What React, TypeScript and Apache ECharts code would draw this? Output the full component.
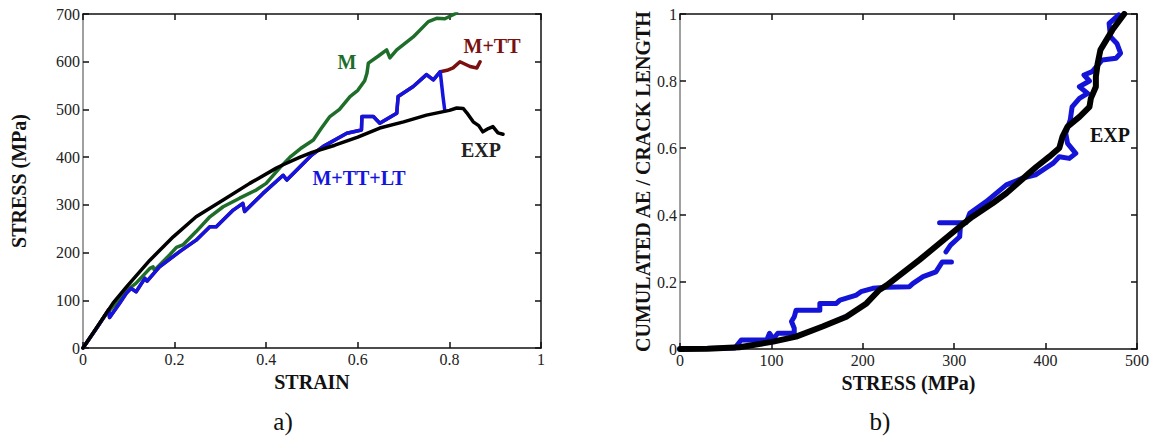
import React, { useEffect, useRef } from "react";
import * as echarts from "echarts";

// ---------- Panel a) : stress vs strain ----------
const strainTicks = { min: 0, max: 1, interval: 0.2 };
const stressTicks = { min: 0, max: 700, interval: 100 };

const expStrain = [0, 0.0655, 0.095, 0.146, 0.197, 0.247, 0.306, 0.364, 0.422, 0.437, 0.474, 0.5, 0.55, 0.6, 0.648, 0.7, 0.75, 0.8, 0.816, 0.83, 0.838, 0.852, 0.864, 0.873, 0.885, 0.895, 0.906, 0.917];
const expStress = [0, 94, 128, 184, 233, 275, 310, 345, 377, 384, 400, 410, 425, 442, 461, 474, 488, 498, 503, 502, 493, 474, 466, 453, 460, 464, 451, 448];

const mStrain = [0, 0.05, 0.1, 0.116, 0.146, 0.153, 0.156, 0.189, 0.204, 0.218, 0.247, 0.277, 0.306, 0.342, 0.378, 0.4, 0.43, 0.452, 0.475, 0.503, 0.52, 0.539, 0.56, 0.583, 0.6, 0.615, 0.62, 0.623, 0.645, 0.663, 0.67, 0.685, 0.721, 0.754, 0.772, 0.79, 0.816];
const mStress = [0, 70, 124, 136, 167, 170, 163, 195, 211, 216, 244, 275, 296, 314, 331, 345, 378, 400, 418, 436, 460, 485, 500, 527, 540, 560, 576, 597, 612, 625, 608, 625, 652, 684, 691, 690, 702];

const ltStrain = [0, 0.03, 0.056, 0.058, 0.08, 0.095, 0.105, 0.116, 0.135, 0.14, 0.167, 0.211, 0.247, 0.277, 0.291, 0.328, 0.349, 0.353, 0.393, 0.437, 0.445, 0.5, 0.524, 0.576, 0.608, 0.609, 0.634, 0.648, 0.685, 0.688, 0.721, 0.75, 0.765, 0.78, 0.786, 0.79];
const ltStress = [0, 42, 80, 64, 94, 115, 125, 118, 146, 140, 170, 202, 226, 254, 254, 289, 303, 286, 324, 362, 352, 405, 422, 450, 457, 485, 485, 471, 492, 527, 548, 573, 562, 579, 527, 497];

const ttTailStrain = [0.795, 0.808, 0.823, 0.845, 0.86, 0.867];
const ttTailStress = [582, 587, 600, 590, 587, 600];

// ---------- Panel b) : cumulated AE / crack length vs stress ----------
const aeStressTicks = { min: 0, max: 500, interval: 100 };
const aeValueTicks = { min: 0, max: 1, interval: 0.2 };

const crackStress = [0, 30, 65, 102, 127, 156, 182, 204, 218, 226, 262, 306, 320, 342, 357, 382, 390, 404, 415, 418.5, 424, 437, 448, 449.5, 455, 455, 457, 460, 473, 486];
const crackLength = [0, 0.001, 0.005, 0.022, 0.037, 0.067, 0.096, 0.136, 0.176, 0.19, 0.266, 0.365, 0.395, 0.435, 0.465, 0.525, 0.544, 0.574, 0.6, 0.634, 0.664, 0.693, 0.723, 0.748, 0.783, 0.813, 0.853, 0.893, 0.952, 1.0];

// null entries mark gaps in the AE trace
const aeStress = [0, 60, 67, 95, 98, 102, 107, 125, 125, 122, 125, 127, 153, 153, 171, 175, 193, 198, 211, 226, 251, 255, 266, 280, 287, 297, null, 291, 296, 306, 307, null, 284, 313, 317, 335, 357, 375, 389, 400, 408, 415, 426, 433, 424, 422, 427, 429, 437, 446, 437, 448, 442, 451, 462, 477, 482, 478, 471, 469.5, 480];
const aeCum = [0, 0.003, 0.027, 0.027, 0.047, 0.03, 0.047, 0.047, 0.062, 0.082, 0.096, 0.116, 0.116, 0.136, 0.136, 0.146, 0.161, 0.171, 0.181, 0.184, 0.186, 0.196, 0.216, 0.23, 0.26, 0.26, null, 0.29, 0.31, 0.335, 0.375, null, 0.377, 0.377, 0.405, 0.44, 0.49, 0.51, 0.52, 0.54, 0.554, 0.574, 0.569, 0.584, 0.614, 0.644, 0.684, 0.723, 0.748, 0.763, 0.783, 0.8, 0.818, 0.828, 0.863, 0.868, 0.883, 0.912, 0.932, 0.972, 0.997];

const SERIF = "Liberation Serif";

function pairs(xs: (number | null)[], ys: (number | null)[]) {
  return xs.map((x, i) => (x == null || ys[i] == null ? ["-", "-"] : [x, ys[i]]));
}

const lineCol = "#111";

function baseAxis(gridIndex: number, t: { min: number; max: number; interval: number }, position: string, main: boolean, axisColor: string) {
  return {
    type: "value",
    gridIndex,
    min: t.min,
    max: t.max,
    interval: t.interval,
    position,
    axisLine: { show: true, onZero: false, lineStyle: { color: axisColor, width: 1.5 } },
    axisTick: { show: true, inside: true, length: 6, lineStyle: { color: lineCol, width: 1.5 } },
    axisLabel: main
      ? { show: true, fontFamily: SERIF, fontSize: 16, color: "#222", margin: 3 }
      : { show: false },
    splitLine: { show: false },
  };
}

const nameStyle = { fontFamily: SERIF, fontWeight: "bold", fontSize: 20, color: "#111" };

export default function App() {
  const ref = useRef<HTMLDivElement>(null);
  useEffect(() => {
    if (!ref.current) return;
    const chart = echarts.init(ref.current, undefined, { renderer: "svg" });

    const split = ltStrain.indexOf(0.78) + 1;
    const ttStrain = ltStrain.slice(0, split).concat(ttTailStrain);
    const ttStress = ltStress.slice(0, split).concat(ttTailStress);

    const xAxis = [
      { ...baseAxis(0, strainTicks, "bottom", true, lineCol), name: "STRAIN", nameLocation: "middle", nameGap: 21, nameTextStyle: nameStyle },
      baseAxis(0, strainTicks, "top", false, lineCol),
      { ...baseAxis(1, aeStressTicks, "bottom", true, lineCol), name: "STRESS (MPa)", nameLocation: "middle", nameGap: 21, nameTextStyle: nameStyle },
      baseAxis(1, aeStressTicks, "top", false, lineCol),
    ];
    const yAxis = [
      { ...baseAxis(0, stressTicks, "left", true, "#808080"), name: "STRESS (MPa)", nameLocation: "middle", nameGap: 54, nameTextStyle: nameStyle },
      baseAxis(0, stressTicks, "right", false, lineCol),
      { ...baseAxis(1, aeValueTicks, "left", true, "#808080"), name: "CUMULATED AE / CRACK LENGTH", nameLocation: "middle", nameGap: 25, nameTextStyle: nameStyle },
      baseAxis(1, aeValueTicks, "right", false, lineCol),
    ];

    const lineSeries = (name: string, data: any[], color: string, width: number, xi: number, yi: number) => ({
      type: "line",
      name,
      data,
      xAxisIndex: xi,
      yAxisIndex: yi,
      symbol: "none",
      connectNulls: false,
      clip: true,
      lineStyle: { color, width, cap: "round", join: "round" },
      silent: true,
    });

    const label = (text: string, x: number, y: number, color: string) => ({
      type: "text",
      x,
      y,
      style: { text, fill: color, font: `bold 20px "${SERIF}"`, textAlign: "center", textVerticalAlign: "middle" },
    });

    chart.setOption({
      animation: false,
      backgroundColor: "#fff",
      grid: [
        { left: 83, top: 14, width: 458, height: 334 },
        { left: 680, top: 14, width: 458, height: 335 },
      ],
      xAxis,
      yAxis,
      series: [
        lineSeries("M", pairs(mStrain, mStress), "#1e6e2a", 3.5, 0, 0),
        lineSeries("M+TT", pairs(ttStrain, ttStress), "#7a1010", 3.5, 0, 0),
        lineSeries("M+TT+LT", pairs(ltStrain, ltStress), "#1414e0", 3.5, 0, 0),
        lineSeries("EXP", pairs(expStrain, expStress), "#000", 3.5, 0, 0),
        lineSeries("AE", pairs(aeStress, aeCum), "#1414d8", 5, 2, 2),
        lineSeries("EXP crack", pairs(crackStress, crackLength), "#000", 6, 2, 2),
      ],
      graphic: [
        label("M", 347, 62, "#1e6e2a"),
        label("M+TT", 492, 46, "#7a1010"),
        label("EXP", 481, 150, "#222"),
        label("M+TT+LT", 359, 178, "#1414e0"),
        label("EXP", 1110, 135, "#111"),
        { type: "text", x: 283, y: 421, style: { text: "a)", fill: "#111", font: `25px "${SERIF}"`, textAlign: "center", textVerticalAlign: "middle" } },
        { type: "text", x: 880, y: 421, style: { text: "b)", fill: "#111", font: `25px "${SERIF}"`, textAlign: "center", textVerticalAlign: "middle" } },
      ],
    });
    return () => chart.dispose();
  }, []);
  return <div ref={ref} style={{ position: "absolute", left: 0, top: 0, width: 1152, height: 441 }} />;
}
